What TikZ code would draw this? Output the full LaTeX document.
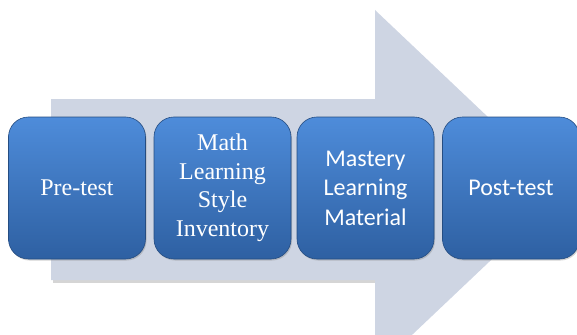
\documentclass[tikz,border=0pt]{standalone}
\usepackage{fontspec}
\setmainfont{Liberation Serif}
\newfontfamily\calib{Carlito}
\usetikzlibrary{shadows}
\definecolor{arrowfill}{RGB}{206,213,227}
\definecolor{boxtop}{RGB}{78,140,218}
\definecolor{boxbot}{RGB}{46,96,162}
\tikzset{
  stage/.style={rounded corners=20pt, minimum width=137pt, minimum height=142pt,
    top color=boxtop, bottom color=boxbot, draw=boxbot!80!black, line width=0.6pt,
    text=white, align=center, inner sep=0pt,
    drop shadow={shadow xshift=1pt, shadow yshift=-1.5pt, opacity=0.35}},
  serifT/.style={font=\fontsize{24}{28.5}\selectfont},
  sansT/.style={font=\calib\fontsize{24}{29.5}\selectfont}
}
\begin{document}
\begin{tikzpicture}[x=1pt,y=-1pt]
\useasboundingbox (0,0) rectangle (577,334);
\begin{scope}
\clip (0,0) rectangle (577,334);
\fill[gray!55, opacity=0.6] (53,102) rectangle (377,283);
\fill[arrowfill] (51,99) -- (375,99) -- (375,10) -- (565,190) -- (375,370) -- (375,280) -- (51,280) -- cycle;
\node[stage, serifT] (pre) at (77,188) {Pre-test};
\node[stage, serifT] (mlsi) at (222.5,188) {Math\\Learning\\Style\\Inventory};
\node[stage, sansT] (mlm) at (365.5,188) {Mastery\\Learning\\Material};
\node[stage, sansT] (post) at (511,188) {Post-test};
\end{scope}
\end{tikzpicture}
\end{document}
